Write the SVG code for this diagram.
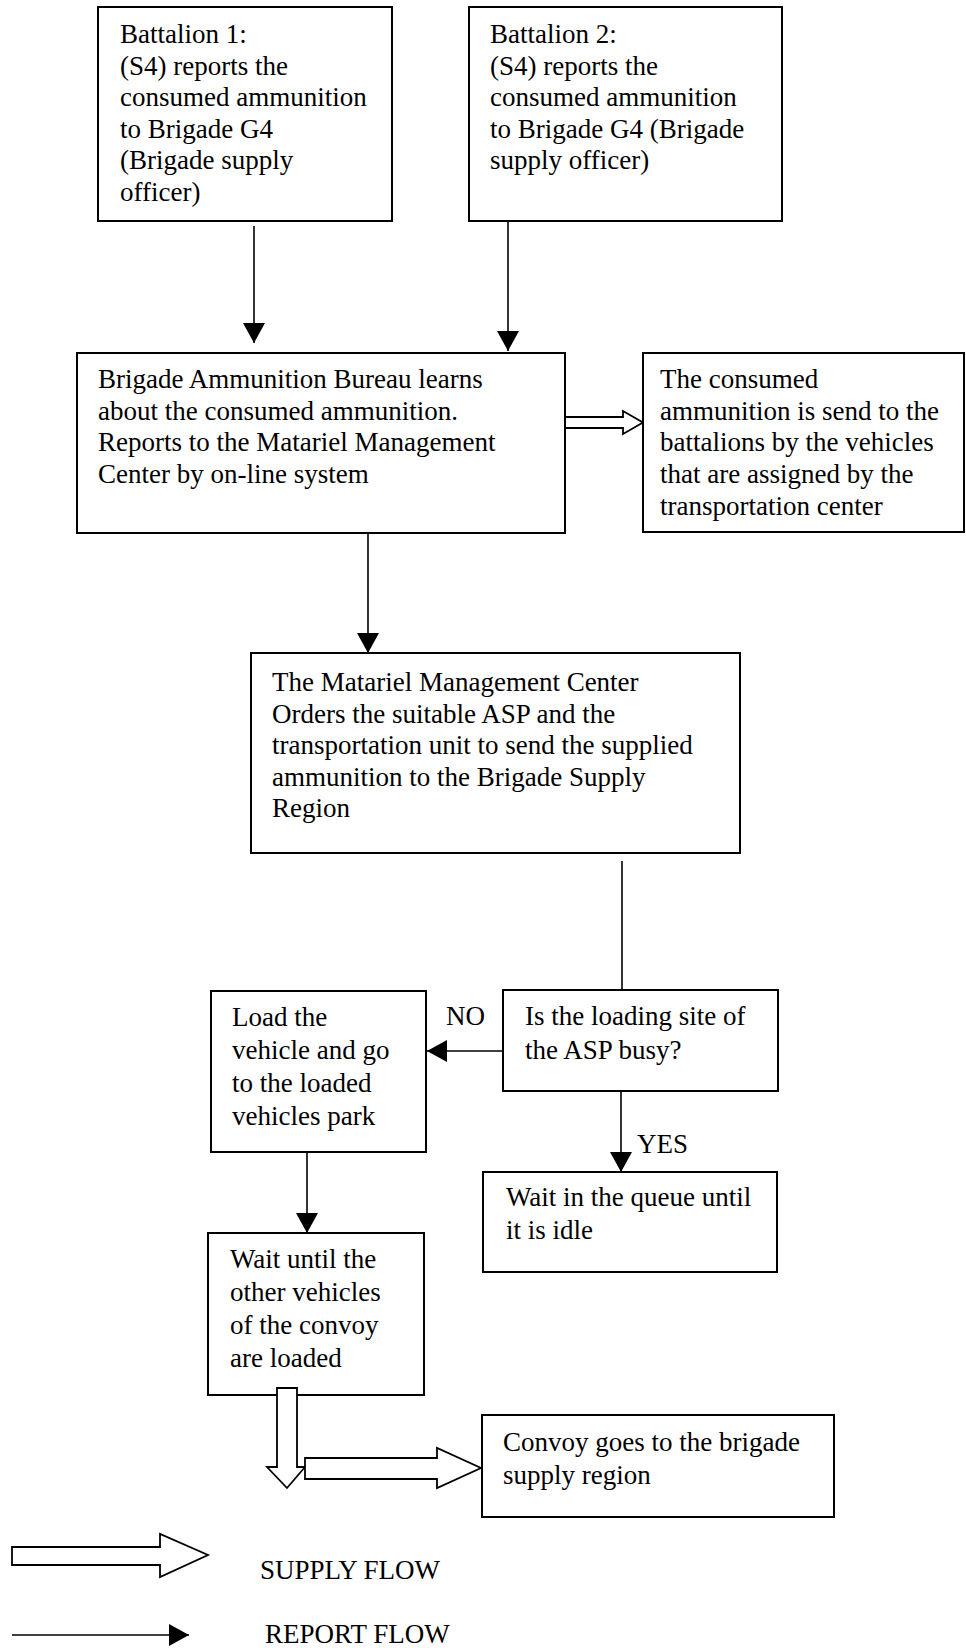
<svg xmlns="http://www.w3.org/2000/svg" width="966" height="1648" viewBox="0 0 966 1648">
  <style>
    .box { fill: #fff; stroke: #000; stroke-width: 2; }
    .txt { font-family: "Liberation Serif", "Times New Roman", serif; font-size: 27px; fill: #000; }
    .report { fill: none; stroke: #000; stroke-width: 1.6; }
    .supply { fill: #fff; stroke: #000; stroke-width: 1.8; stroke-linejoin: miter; }
  </style>
  <defs>
    <marker id="head" viewBox="0 0 20 22" refX="20" refY="11" markerWidth="20" markerHeight="22" markerUnits="userSpaceOnUse" orient="auto">
      <path d="M0,0 L20,11 L0,22 z" fill="#000"/>
    </marker>
  </defs>
  <rect width="966" height="1648" fill="#fff"/>

  <!-- report and supply flows -->
  <g id="connectors">
    <line class="report" x1="254" y1="226" x2="254" y2="343" marker-end="url(#head)"/>
    <line class="report" x1="508" y1="215" x2="508" y2="351" marker-end="url(#head)"/>
    <line class="report" x1="368" y1="520" x2="368" y2="653" marker-end="url(#head)"/>
    <line class="report" x1="622" y1="861" x2="622" y2="990"/>
    <line class="report" x1="503" y1="1051" x2="427" y2="1051" marker-end="url(#head)"/>
    <line class="report" x1="621" y1="1092" x2="621" y2="1172" marker-end="url(#head)"/>
    <line class="report" x1="307" y1="1153" x2="307" y2="1233" marker-end="url(#head)"/>
    <polygon class="supply" points="565,417 623,417 623,411 643,422.5 623,434 623,428 565,428"/>
  </g>

  <g id="battalion1">
    <rect class="box" x="98" y="7" width="294" height="214"/>
    <text class="txt" x="120" y="43">Battalion 1:</text>
    <text class="txt" x="120" y="74.5">(S4) reports the</text>
    <text class="txt" x="120" y="106">consumed ammunition</text>
    <text class="txt" x="120" y="137.5">to Brigade G4</text>
    <text class="txt" x="120" y="169">(Brigade supply</text>
    <text class="txt" x="120" y="200.5">officer)</text>
  </g>

  <g id="battalion2">
    <rect class="box" x="469" y="7" width="313" height="214"/>
    <text class="txt" x="490" y="43">Battalion 2:</text>
    <text class="txt" x="490" y="74.5">(S4) reports the</text>
    <text class="txt" x="490" y="106">consumed ammunition</text>
    <text class="txt" x="490" y="137.5">to Brigade G4 (Brigade</text>
    <text class="txt" x="490" y="169">supply officer)</text>
  </g>

  <g id="bureau">
    <rect class="box" x="77" y="353" width="488" height="180"/>
    <text class="txt" x="98" y="388">Brigade Ammunition Bureau learns</text>
    <text class="txt" x="98" y="420">about the consumed ammunition.</text>
    <text class="txt" x="98" y="451">Reports to the Matariel Management</text>
    <text class="txt" x="98" y="483">Center by on-line system</text>
  </g>

  <g id="delivery">
    <rect class="box" x="643" y="353" width="321" height="179"/>
    <text class="txt" x="660" y="388">The consumed</text>
    <text class="txt" x="660" y="420">ammunition is send to the</text>
    <text class="txt" x="660" y="451">battalions by the vehicles</text>
    <text class="txt" x="660" y="483">that are assigned by the</text>
    <text class="txt" x="660" y="515">transportation center</text>
  </g>

  <g id="mmc">
    <rect class="box" x="251" y="653" width="489" height="200"/>
    <text class="txt" x="272" y="691">The Matariel Management Center</text>
    <text class="txt" x="272" y="722.5">Orders the suitable ASP and the</text>
    <text class="txt" x="272" y="754">transportation unit to send the supplied</text>
    <text class="txt" x="272" y="785.5">ammunition to the Brigade Supply</text>
    <text class="txt" x="272" y="817">Region</text>
  </g>

  <g id="decision">
    <rect class="box" x="503" y="990" width="275" height="101"/>
    <text class="txt" x="525" y="1025">Is the loading site of</text>
    <text class="txt" x="525" y="1059">the ASP busy?</text>
  </g>

  <g id="label-no">
    <text class="txt" x="446" y="1025">NO</text>
  </g>

  <g id="label-yes">
    <text class="txt" x="637" y="1153">YES</text>
  </g>

  <g id="load">
    <rect class="box" x="211" y="991" width="215" height="161"/>
    <text class="txt" x="232" y="1026">Load the</text>
    <text class="txt" x="232" y="1059">vehicle and go</text>
    <text class="txt" x="232" y="1092">to the loaded</text>
    <text class="txt" x="232" y="1125">vehicles park</text>
  </g>

  <g id="queue">
    <rect class="box" x="483" y="1172" width="294" height="100"/>
    <text class="txt" x="506" y="1206">Wait in the queue until</text>
    <text class="txt" x="506" y="1239">it is idle</text>
  </g>

  <g id="wait-convoy">
    <rect class="box" x="208" y="1233" width="216" height="162"/>
    <text class="txt" x="230" y="1268">Wait until the</text>
    <text class="txt" x="230" y="1301">other vehicles</text>
    <text class="txt" x="230" y="1334">of the convoy</text>
    <text class="txt" x="230" y="1367">are loaded</text>
  </g>

  <!-- supply flow out of the loaded convoy -->
  <g id="convoy-flow">
    <polygon class="supply" points="277,1388 297,1388 297,1467 305,1467 287,1488 267,1467 277,1467"/>
    <polygon class="supply" points="305,1458 437,1458 437,1448 481,1468 437,1488 437,1479 305,1479"/>
  </g>

  <g id="convoy">
    <rect class="box" x="482" y="1415" width="352" height="102"/>
    <text class="txt" x="503" y="1451">Convoy goes to the brigade</text>
    <text class="txt" x="503" y="1484">supply region</text>
  </g>

  <g id="legend">
    <polygon class="supply" points="12,1547 160,1547 160,1534 208,1555 160,1577 160,1565 12,1565"/>
    <text class="txt" x="260" y="1579">SUPPLY FLOW</text>
    <line class="report" x1="12" y1="1635" x2="189" y2="1635" marker-end="url(#head)"/>
    <text class="txt" x="265" y="1643">REPORT FLOW</text>
  </g>
</svg>
